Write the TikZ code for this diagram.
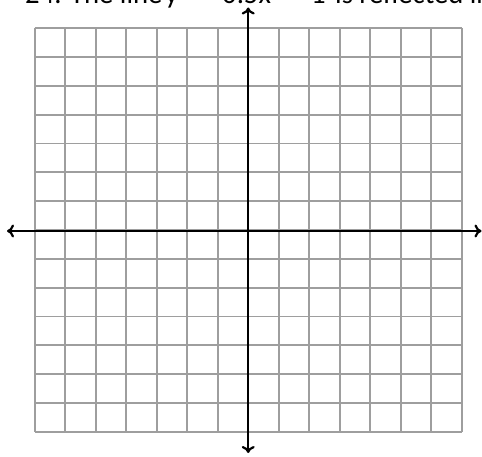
\documentclass[tikz,border=0pt]{standalone}
\usepackage{fontspec}
\setmainfont{Carlito}
\usetikzlibrary{arrows.meta}
\begin{document}
\begin{tikzpicture}[x=1pt,y=-1pt,
  gridline/.style={draw=black!38, line width=1.8pt},
  axisline/.style={draw=black, line width=2.2pt,
    {To[length=7pt,width=13pt]}-{To[length=7pt,width=13pt]}},
  qtext/.style={font=\fontsize{28.7}{30}\selectfont, inner sep=0pt, anchor=base west}]
\useasboundingbox (0,0) rectangle (482,457);
% question text (cut off at top)
\node[qtext] (t1) at (25,4) {24. The line};
\node[qtext] (t2) at (165,4) {y};
\node[qtext] (t3) at (197,4) {=};
\node[qtext] (t4) at (222,4) {0.5x};
\node[qtext] (t5) at (285,4) {–};
\node[qtext] (t6) at (311,4) {1};
\node[qtext] (t7) at (335,4) {is reflected in};
% grid
\foreach \i in {0,...,14} {
  \draw[gridline] ({34.7+30.5*\i},28.3) -- ({34.7+30.5*\i},431.7);
  \draw[gridline] (34.7,{28.3+28.814*\i}) -- (461.7,{28.3+28.814*\i});
}
% axes
\coordinate (ytop) at (248.2,7.5);
\coordinate (ybot) at (248.2,453);
\coordinate (xleft) at (7,231);
\coordinate (xright) at (481.5,231);
\draw[axisline] (xleft) -- (xright);
\draw[axisline] (ybot) -- (ytop);
\end{tikzpicture}
\end{document}
